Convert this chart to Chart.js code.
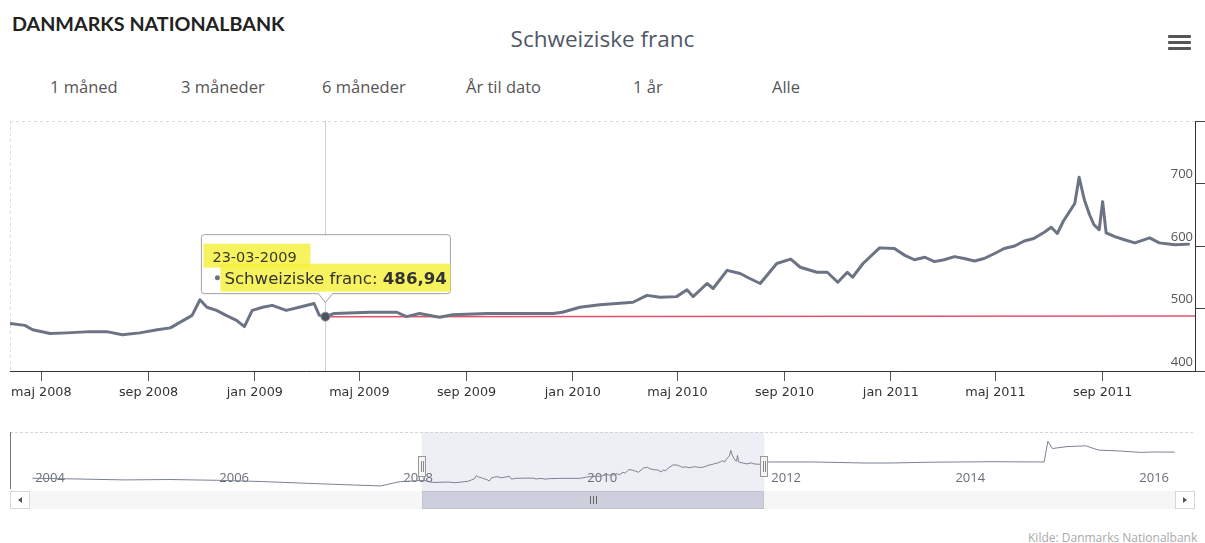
<!DOCTYPE html>
<html><head><meta charset="utf-8">
<script src="https://cdn.jsdelivr.net/npm/chart.js@4.4.1/dist/chart.umd.min.js"></script>
<style>
html,body{margin:0;padding:0;background:#fff;width:1205px;height:543px;overflow:hidden;}
.abs{position:absolute;white-space:nowrap;line-height:1;}
#brand{left:12px;top:12px;font:700 19.7px Lato,sans-serif;color:#222;}
#title{left:0;width:1205px;text-align:center;top:23px;font:22.5px 'Open Sans',sans-serif;color:#4f5767;}
.btn{top:75px;font:16.5px 'Open Sans',sans-serif;color:#555;}
.bar{position:absolute;left:1168px;width:23px;height:3px;background:#555;border-radius:1px;}
#credit{left:1028px;top:529px;font:12px 'Open Sans',sans-serif;color:#aaa;}
#mainWrap{position:absolute;left:0;top:110px;width:1205px;height:300px;}
#navWrap{position:absolute;left:0;top:425px;width:1205px;height:95px;}
</style></head><body>
<div id="brand" class="abs">DANMARKS NATIONALBANK</div>
<div id="title" class="abs">Schweiziske franc</div>
<div class="bar" style="top:35px"></div><div class="bar" style="top:41px"></div><div class="bar" style="top:47px"></div>
<div class="abs btn" style="left:50px">1 måned</div>
<div class="abs btn" style="left:181px">3 måneder</div>
<div class="abs btn" style="left:322px">6 måneder</div>
<div class="abs btn" style="left:466px">År til dato</div>
<div class="abs btn" style="left:633px">1 år</div>
<div class="abs btn" style="left:772px">Alle</div>
<div id="mainWrap"><canvas id="main" width="1205" height="300"></canvas></div>
<div id="navWrap"><canvas id="nav" width="1205" height="95"></canvas></div>
<div id="credit" class="abs">Kilde: Danmarks Nationalbank</div>
<script>
// ---- data (DKK per 100 CHF) ----
const seriesDates = ['2008-03-26','2008-04-12','2008-04-21','2008-05-11','2008-05-30','2008-06-26','2008-07-15','2008-08-02','2008-08-22','2008-09-11','2008-09-26','2008-10-11','2008-10-21','2008-10-30','2008-11-07','2008-11-18','2008-11-29','2008-12-11','2008-12-20','2008-12-29','2009-01-10','2009-01-21','2009-02-06','2009-02-21','2009-03-10','2009-03-16','2009-03-23','2009-04-02','2009-05-13','2009-06-13','2009-06-24','2009-07-09','2009-08-01','2009-08-16','2009-09-24','2009-11-01','2009-12-09','2009-12-20','2010-01-09','2010-02-01','2010-03-11','2010-03-27','2010-04-11','2010-04-30','2010-05-12','2010-05-19','2010-06-04','2010-06-11','2010-06-27','2010-07-12','2010-07-23','2010-08-04','2010-08-23','2010-09-08','2010-09-19','2010-10-08','2010-10-20','2010-11-01','2010-11-12','2010-11-18','2010-11-30','2010-12-19','2011-01-05','2011-01-17','2011-01-28','2011-02-09','2011-02-20','2011-03-03','2011-03-15','2011-03-26','2011-04-07','2011-04-18','2011-04-30','2011-05-11','2011-05-23','2011-06-03','2011-06-14','2011-06-26','2011-07-04','2011-07-11','2011-07-18','2011-07-25','2011-07-31','2011-08-05','2011-08-11','2011-08-17','2011-08-22','2011-08-28','2011-09-01','2011-09-05','2011-09-15','2011-09-26','2011-10-08','2011-10-25','2011-11-05','2011-11-23','2011-12-10'];
const seriesValues = [476,473,466,460,461,463,463,458,461,466,469,481,489,514,502,497,489,481,471,497,502,505,497,502,508,489,486.94,492,494,494,487,492,486,490,492,492,492,494,502,506,510,521,518,519,530,519,540,532,561,556,548,540,572,579,566,558,558,542,558,550,572,597,596,585,578,582,575,578,583,580,576,580,588,596,600,608,612,622,630,620,640,655,668,710,674,650,634,626,671,621,615,610,605,613,605,602,603];
const refDates = ['2009-03-23','2011-12-16'];
const refValues = [486.94, 488];
const navBeforeDates = ['2004-01-02','2004-07-01','2005-01-03','2005-07-01','2006-01-02','2006-07-03','2007-01-02','2007-07-02','2007-10-15','2008-01-02','2008-03-03'];
const navBeforeValues = [493,487,480,483,477,467,453,440,433,467,473];
const navAfterDates = ['2012-01-02','2012-07-02','2013-01-15','2013-05-02','2013-10-01','2014-06-02','2014-12-31','2015-01-15','2015-02-02','2015-04-01','2015-06-15','2015-08-03','2015-11-02','2016-01-15','2016-03-15','2016-06-01'];
const navAfterValues = [620,620,612,612,618,622,620,782,725,740,746,713,705,695,698,697];
const xTickDates = ['2008-05-01','2008-09-01','2009-01-01','2009-05-01','2009-09-01','2010-01-01','2010-05-01','2010-09-01','2011-01-01','2011-05-01','2011-09-01'];
const xTickLabels = ['maj 2008','sep 2008','jan 2009','maj 2009','sep 2009','jan 2010','maj 2010','sep 2010','jan 2011','maj 2011','sep 2011'];
const yTickValues = [400,500,600,700,800];
const yTickLabels = ['400','500','600','700',''];
const navTickDates = ['2004-01-01','2006-01-01','2008-01-01','2010-01-01','2012-01-01','2014-01-01','2016-01-01'];
const navTickLabels = ['2004','2006','2008','2010','2012','2014','2016'];
const viewRange = ['2008-03-26','2011-12-16'];
const navRange = ['2003-10-05','2016-08-21'];
const tipDate = '2009-03-23', tipDateLabel = '23-03-2009', tipName = 'Schweiziske franc', tipValueLabel = '486,94', tipValue = 486.94;

const ts = d => Date.parse(d + 'T00:00:00Z');
const pts = (ds, vs) => ds.map((d, i) => ({x: ts(d), y: vs[i]}));
const LINE = '#6b7384';

const mainOverlay = {
  id: 'mainOverlay',
  beforeDatasetsDraw(chart) {
    const {ctx, chartArea: a, scales: {x}} = chart;
    ctx.save();
    ctx.strokeStyle = '#dcdcdc'; ctx.lineWidth = 1; ctx.setLineDash([3, 3]);
    ctx.beginPath(); ctx.moveTo(a.left, a.top + 0.5); ctx.lineTo(a.right, a.top + 0.5);
    ctx.moveTo(a.left + 0.5, a.top); ctx.lineTo(a.left + 0.5, a.bottom); ctx.stroke();
    ctx.setLineDash([]);
    const px = Math.round(x.getPixelForValue(ts(tipDate))) + 0.5;
    ctx.strokeStyle = '#cfcfcf';
    ctx.beginPath(); ctx.moveTo(px, a.top); ctx.lineTo(px, a.bottom); ctx.stroke();
    ctx.restore();
  },
  afterDraw(chart) {
    const {ctx, scales: {x, y}} = chart;
    const px = x.getPixelForValue(ts(tipDate)), py = y.getPixelForValue(tipValue);
    ctx.save();
    ctx.fillStyle = '#4d5360'; ctx.strokeStyle = '#8a909c'; ctx.lineWidth = 1;
    ctx.beginPath(); ctx.arc(px, py, 4.5, 0, Math.PI * 2); ctx.fill(); ctx.stroke();
    const L = px - 124, R = px + 125, T = py - 82, B = py - 23;
    ctx.fillStyle = 'rgba(255,255,255,0.96)'; ctx.strokeStyle = '#a0a0a0';
    ctx.beginPath();
    ctx.moveTo(L + 3, T); ctx.lineTo(R - 3, T); ctx.quadraticCurveTo(R, T, R, T + 3);
    ctx.lineTo(R, B - 3); ctx.quadraticCurveTo(R, B, R - 3, B);
    ctx.lineTo(px + 7, B); ctx.lineTo(px, B + 9); ctx.lineTo(px - 7, B);
    ctx.lineTo(L + 3, B); ctx.quadraticCurveTo(L, B, L, B - 3);
    ctx.lineTo(L, T + 3); ctx.quadraticCurveTo(L, T, L + 3, T);
    ctx.closePath(); ctx.fill(); ctx.stroke();
    ctx.fillStyle = 'rgba(245,240,60,0.82)';
    ctx.fillRect(L + 2, T + 9, 107, 24);
    ctx.fillRect(px - 105, T + 29, 230, 28);
    ctx.fillStyle = '#3a3a2a';
    ctx.textBaseline = 'alphabetic';
    ctx.font = "14.5px 'DejaVu Sans'";
    ctx.fillText(tipDateLabel, L + 11, T + 27);
    ctx.fillStyle = LINE;
    ctx.beginPath(); ctx.arc(px - 108, T + 43, 2.5, 0, Math.PI * 2); ctx.fill();
    ctx.fillStyle = '#333';
    ctx.font = "16.6px 'DejaVu Sans'";
    const s1 = tipName + ': ';
    ctx.fillText(s1, px - 101, T + 49);
    const w1 = ctx.measureText(s1).width;
    ctx.font = "bold 16.6px 'DejaVu Sans'";
    ctx.fillText(tipValueLabel, px - 101 + w1, T + 49);
    ctx.restore();
  }
};

new Chart(document.getElementById('main'), {
  type: 'line',
  data: {datasets: [
    {label: 'Schweiziske franc', data: pts(seriesDates, seriesValues), borderColor: LINE, borderWidth: 3, pointRadius: 0, tension: 0, borderJoinStyle: 'round'},
    {label: 'niveau', data: pts(refDates, refValues), borderColor: '#e2506a', borderWidth: 1.5, pointRadius: 0, tension: 0}
  ]},
  options: {
    responsive: false, animation: false, events: [],
    layout: {padding: {left: 10, right: 0, top: 11, bottom: 0}},
    plugins: {legend: {display: false}, tooltip: {enabled: false}},
    scales: {
      x: {type: 'linear', min: ts(viewRange[0]), max: ts(viewRange[1]),
        afterBuildTicks: s => { s.ticks = xTickDates.map(d => ({value: ts(d)})); },
        afterFit: s => { s.height = 39; },
        ticks: {autoSkip: false, maxRotation: 0, padding: 4, color: '#333', font: {family: 'DejaVu Sans', size: 12.8}, callback: (v, i) => xTickLabels[i]},
        grid: {drawOnChartArea: false, tickLength: 10, color: '#555'},
        border: {display: true, color: '#333', width: 1}},
      y: {position: 'right', min: 400, max: 800,
        afterBuildTicks: s => { s.ticks = yTickValues.map(v => ({value: v})); },
        afterFit: s => { s.width = 10; },
        ticks: {mirror: true, padding: -2, labelOffset: -9, color: '#555', font: {family: 'Open Sans', size: 13}, callback: (v, i) => yTickLabels[i]},
        grid: {drawOnChartArea: false, tickLength: 10, color: '#444'},
        border: {display: true, color: '#333', width: 1}}
    }
  },
  plugins: [mainOverlay]
});

const navOverlay = {
  id: 'navOverlay',
  beforeDatasetsDraw(chart) {
    const {ctx, chartArea: a, scales: {x}} = chart;
    ctx.save();
    ctx.strokeStyle = '#d6d6d6'; ctx.setLineDash([3, 2]);
    ctx.beginPath(); ctx.moveTo(a.left, a.top + 0.5); ctx.lineTo(a.right, a.top + 0.5); ctx.stroke();
    ctx.setLineDash([]);
    ctx.strokeStyle = '#777';
    ctx.beginPath(); ctx.moveTo(a.left + 0.5, a.top); ctx.lineTo(a.left + 0.5, a.top + 57); ctx.stroke();
    const ml = x.getPixelForValue(ts(viewRange[0])), mr = x.getPixelForValue(ts(viewRange[1]));
    ctx.fillStyle = 'rgba(200,205,222,0.32)';
    ctx.fillRect(ml, a.top, mr - ml, 59);
    ctx.font = "13px 'Open Sans'"; ctx.fillStyle = '#6a6d7a'; ctx.textBaseline = 'middle';
    navTickDates.forEach((d, i) => ctx.fillText(navTickLabels[i], x.getPixelForValue(ts(d)) + 3, 53));
    ctx.restore();
  },
  afterDraw(chart) {
    const {ctx, chartArea: a, scales: {x}} = chart;
    const ml = Math.round(x.getPixelForValue(ts(viewRange[0]))), mr = Math.round(x.getPixelForValue(ts(viewRange[1])));
    ctx.save();
    const sy = 66, sh = 18;
    ctx.fillStyle = '#f6f6f6'; ctx.fillRect(a.left + 20, sy, a.right - a.left - 40, sh);
    ctx.fillStyle = '#cdd0dc'; ctx.strokeStyle = '#c0c3cf';
    ctx.fillRect(ml, sy, mr - ml, sh); ctx.strokeRect(ml + 0.5, sy + 0.5, mr - ml - 1, sh - 1);
    const c = Math.round((ml + mr) / 2);
    ctx.strokeStyle = '#666'; ctx.lineWidth = 1;
    ctx.beginPath();
    [-3, 0, 3].forEach(o => { ctx.moveTo(c + o + 0.5, sy + 5); ctx.lineTo(c + o + 0.5, sy + 13); });
    ctx.stroke();
    [[a.left, -1], [a.right - 20, 1]].forEach(([bx, dir]) => {
      ctx.fillStyle = '#fff'; ctx.strokeStyle = '#d8d8d8';
      ctx.fillRect(bx, sy, 20, sh); ctx.strokeRect(bx + 0.5, sy + 0.5, 19, sh - 1);
      ctx.fillStyle = '#555';
      const cx = bx + 10, cy = sy + sh / 2;
      ctx.beginPath(); ctx.moveTo(cx + 2 * dir, cy); ctx.lineTo(cx - 2 * dir, cy - 3); ctx.lineTo(cx - 2 * dir, cy + 3); ctx.closePath(); ctx.fill();
    });
    [ml, mr].forEach(hx => {
      ctx.fillStyle = '#f4f4f4'; ctx.strokeStyle = '#999';
      ctx.fillRect(hx - 4, 31, 8, 21); ctx.strokeRect(hx - 3.5, 31.5, 7, 20);
      ctx.strokeStyle = '#888';
      ctx.beginPath(); ctx.moveTo(hx - 0.5, 36); ctx.lineTo(hx - 0.5, 47); ctx.moveTo(hx + 1.5, 36); ctx.lineTo(hx + 1.5, 47); ctx.stroke();
    });
    ctx.restore();
  }
};

const navDates = navBeforeDates.concat(seriesDates, navAfterDates);
const navValues = navBeforeValues.concat(seriesValues, navAfterValues);
new Chart(document.getElementById('nav'), {
  type: 'line',
  data: {datasets: [{data: pts(navDates, navValues), borderColor: '#7a8191', borderWidth: 1, pointRadius: 0, tension: 0}]},
  options: {
    responsive: false, animation: false, events: [],
    layout: {padding: {left: 10, right: 10, top: 7, bottom: 26}},
    plugins: {legend: {display: false}, tooltip: {enabled: false}},
    scales: {
      x: {type: 'linear', display: false, min: ts(navRange[0]), max: ts(navRange[1])},
      y: {display: false, min: 370, max: 854}
    }
  },
  plugins: [navOverlay]
});
</script>
</body></html>
